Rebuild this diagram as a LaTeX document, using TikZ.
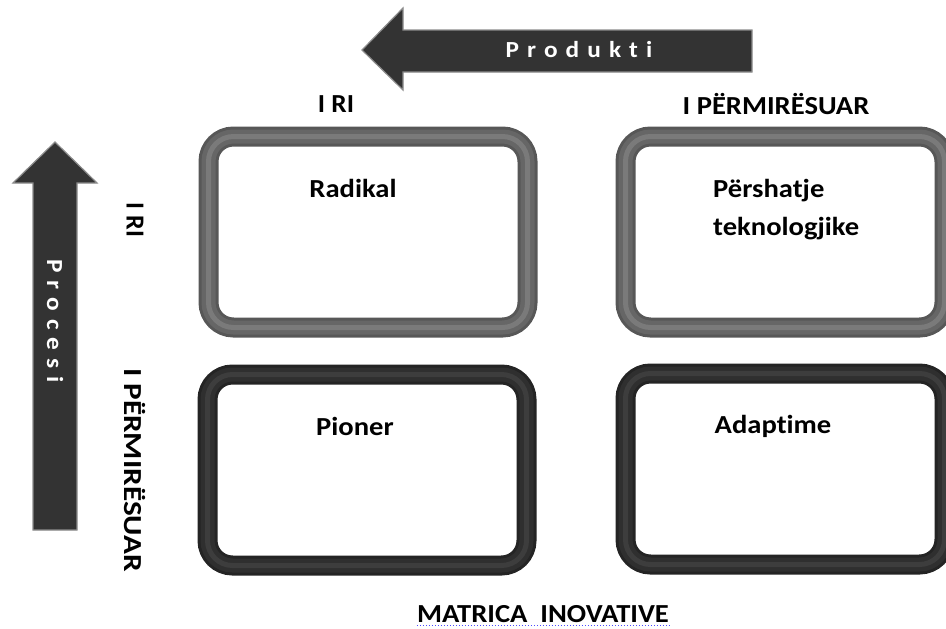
\documentclass[tikz,border=0pt]{standalone}
\usepackage{fontspec}
\setmainfont{Carlito}[Ligatures=CommonOff]
\definecolor{ringA}{HTML}{575757}
\definecolor{ringAm}{HTML}{666666}
\definecolor{ringAl}{HTML}{7A7A7A}
\definecolor{ringB}{HTML}{242424}
\definecolor{ringBm}{HTML}{2F2F2F}
\definecolor{ringBl}{HTML}{3D3D3D}
\definecolor{arrowfill}{HTML}{333333}
\definecolor{arrowedge}{HTML}{8C8C8C}
\begin{document}
\begin{tikzpicture}[x=1pt,y=-1pt,
  boxbase/.style={rectangle, rounded corners=25pt, minimum width=319pt, minimum height=191pt, inner sep=0pt, line width=20pt},
  graybox/.style={boxbase, draw=ringA, fill=white,
     postaction={draw=ringAm, line width=14pt},
     postaction={draw=ringAl, line width=5pt}},
  darkbox/.style={boxbase, draw=ringB, fill=white,
     postaction={draw=ringBm, line width=14pt},
     postaction={draw=ringBl, line width=5pt}},
  lbl/.style={font=\fontsize{26}{31}\selectfont\bfseries, text=black, inner sep=0pt},
  celltxt/.style={font=\fontsize{26}{31}\selectfont\bfseries, text=black, inner sep=0pt, xscale=1.1},
  arrowtxt/.style={font=\fontsize{23}{27}\selectfont\bfseries\addfontfeature{LetterSpace=32}, text=white, inner sep=0pt},
  arrowshape/.style={fill=arrowfill, draw=arrowedge, line width=1.2pt, line join=miter}
]
\useasboundingbox (0,0) rectangle (946,629);

% Produkti arrow (pointing left)
\draw[arrowshape] (752,30) -- (403,30) -- (403,8) -- (362,50) -- (403,90) -- (403,72) -- (752,72) -- cycle;
\node[arrowtxt, xscale=1.1] (produkti) at (579,50) {Produkti};

% Procesi arrow (pointing up)
\draw[arrowshape] (33,530) -- (33,183) -- (13,183) -- (55,142) -- (97,183) -- (77,183) -- (77,530) -- cycle;
\node[arrowtxt, rotate=-90, xscale=1.1] (procesi) at (55,321) {Procesi};

% column labels
\node[lbl, xscale=1.05] (colnew) at (336,104) {I RI};
\node[lbl, xscale=1.1] (colimp) at (776,104) {I PËRMIRËSUAR};

% row labels
\node[lbl, rotate=-90] (rownew) at (135,220) {I RI};
\node[lbl, rotate=-90, xscale=1.2] (rowimp) at (135,470) {I PËRMIRËSUAR};

% boxes
\node[graybox] (radikalbox) at (368,232) {};
\node[graybox] (pershatjebox) at (785,232) {};
\node[darkbox] (pionerbox) at (367,470) {};
\node[darkbox] (adaptimebox) at (785,469) {};

% cell texts
\node[celltxt] (radikal) at (353,188) {Radikal};
\node[celltxt, anchor=west, align=left] (pershatje) at (713,210) {Përshatje\\[7pt]teknologjike};
\node[celltxt] (pioner) at (355,426) {Pioner};
\node[celltxt] (adaptime) at (773,426) {Adaptime};

% title
\node[lbl, xscale=1.1] (title) at (543,614) {MATRICA\ \ INOVATIVE};
\draw[blue!70, dotted, line width=1pt] ([yshift=-3pt]title.south west) -- ([yshift=-3pt]title.south east);
\end{tikzpicture}
\end{document}
